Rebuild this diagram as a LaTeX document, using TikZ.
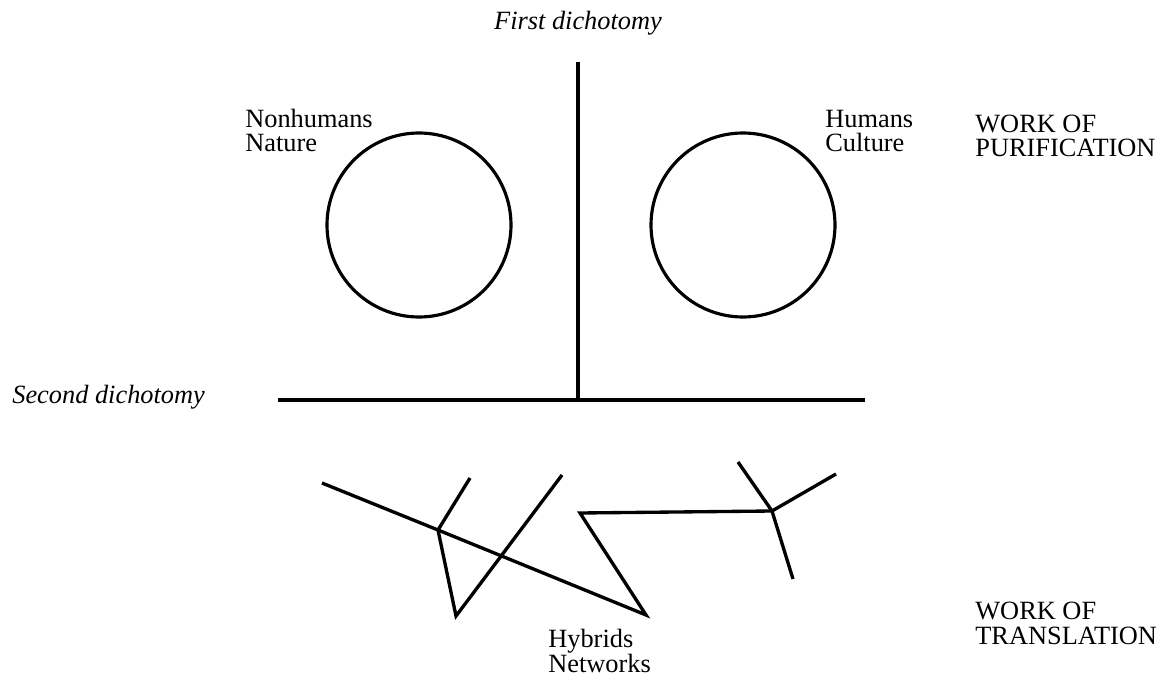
\documentclass[tikz,border=0pt]{standalone}
\usepackage{fontspec}
\setmainfont{Liberation Serif}
\usepackage{tikz}
\usetikzlibrary{positioning,calc}

\begin{document}
\begin{tikzpicture}[
    lbl/.style={font=\fontsize{15}{14}\selectfont,inner sep=0pt,align=left,anchor=base west},
    dich/.style={lbl,font=\fontsize{15}{14}\selectfont\itshape},
    ring/.style={draw,circle,line width=1.8pt,minimum size=3.68cm,inner sep=0pt},
    bar/.style={line width=1.9pt},
    net/.style={line width=1.9pt,line join=miter}
  ]
  \useasboundingbox (0,0) rectangle (23.26,-13.54);

  \node[dich,anchor=base] (first) at (11.56,-0.60) {First dichotomy};
  \node[dich] (second) at (0.24,-8.06) {Second dichotomy};

  \coordinate (vtop) at (11.56,-1.24);
  \coordinate (vbot) at (11.56,-8.00);
  \coordinate (hleft) at (5.56,-8.00);
  \coordinate (hright) at (17.30,-8.00);
  \draw[bar] (vtop) -- (vbot);
  \draw[bar] (hleft) -- (hright);

  \node[ring] (nature) at (8.38,-4.50) {};
  \node[ring] (culture) at (14.86,-4.50) {};
  \node[lbl] (nonhum) at (4.90,-3.04) {Nonhumans\\Nature};
  \node[lbl] (hum) at (16.50,-3.04) {Humans\\Culture};

  \node[lbl] (purif) at (19.50,-3.14) {WORK OF\\PURIFICATION};
  \node[lbl] (transl) at (19.50,-12.88) {WORK OF\\TRANSLATION};
  \node[lbl] (hybrids) at (10.96,-13.44) {Hybrids\\Networks};

  \coordinate (p1) at (6.44,-9.66);
  \coordinate (ja) at (8.76,-10.60);
  \coordinate (jaup) at (9.40,-9.56);
  \coordinate (vb) at (9.12,-12.32);
  \coordinate (vt) at (11.24,-9.50);
  \coordinate (zb) at (12.92,-12.30);
  \coordinate (zt) at (11.60,-10.26);
  \coordinate (jb) at (15.44,-10.22);
  \coordinate (jbl) at (14.76,-9.24);
  \coordinate (jbr) at (16.72,-9.48);
  \coordinate (jbd) at (15.86,-11.58);

  \draw[net] (p1) -- (ja) -- (zb) -- (zt) -- (jb);
  \draw[net] (jaup) -- (ja) -- (vb) -- (vt);
  \draw[net] (jbl) -- (jb) -- (jbr);
  \draw[net] (jb) -- (jbd);
\end{tikzpicture}
\end{document}
